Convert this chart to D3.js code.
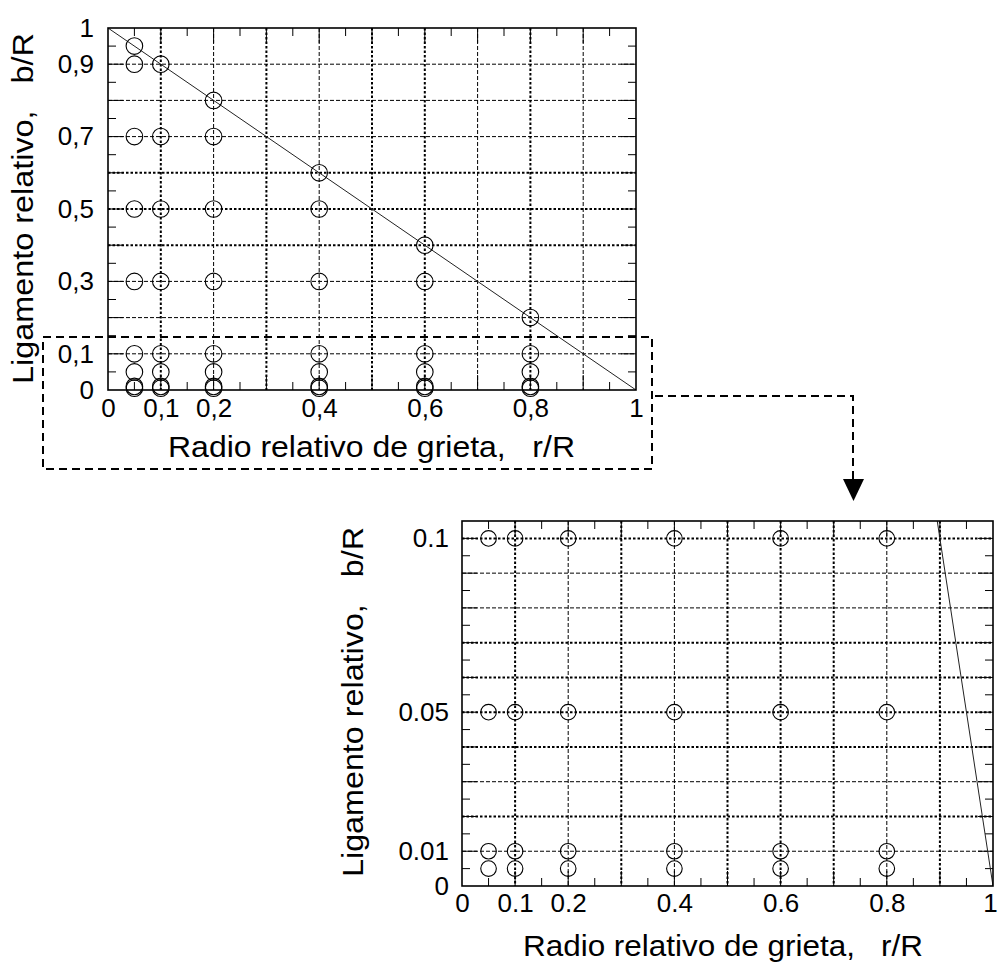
<!DOCTYPE html>
<html><head><meta charset="utf-8">
<script src="https://cdn.jsdelivr.net/npm/d3@7"></script>
<style>
html,body{margin:0;padding:0;background:#fff;}
svg{display:block;}
text{font-family:"Liberation Sans",Arial,sans-serif;fill:#000;}
</style></head>
<body>
<script>
// ---- data ----
const crackRadius = [0.05, 0.1, 0.2, 0.4, 0.6, 0.8];
const ligamentR005 = [0.95, 0.9, 0.7, 0.5, 0.3, 0.1, 0.05, 0.01, 0.005];
const ligamentR01  = [0.9, 0.7, 0.5, 0.3, 0.1, 0.05, 0.01, 0.005];
const ligamentR02  = [0.8, 0.7, 0.5, 0.3, 0.1, 0.05, 0.01, 0.005];
const ligamentR04  = [0.6, 0.5, 0.3, 0.1, 0.05, 0.01, 0.005];
const ligamentR06  = [0.4, 0.3, 0.1, 0.05, 0.01, 0.005];
const ligamentR08  = [0.2, 0.1, 0.05, 0.01, 0.005];
const ligamentSeries = [ligamentR005, ligamentR01, ligamentR02, ligamentR04, ligamentR06, ligamentR08];

const limitR = [0, 1];
const limitB = [1, 0];

const topXTicks = [0, 0.1, 0.2, 0.4, 0.6, 0.8, 1];
const topXLabels = ["0", "0,1", "0,2", "0,4", "0,6", "0,8", "1"];
const topYTicks = [0, 0.1, 0.3, 0.5, 0.7, 0.9, 1];
const topYLabels = ["0", "0,1", "0,3", "0,5", "0,7", "0,9", "1"];
const botXTicks = [0, 0.1, 0.2, 0.4, 0.6, 0.8, 1];
const botXLabels = ["0", "0.1", "0.2", "0.4", "0.6", "0.8", "1"];
const botYTicks = [0, 0.01, 0.05, 0.1];
const botYLabels = ["0", "0.01", "0.05", "0.1"];

const xTitle = "Radio relativo de grieta,   r/R";
const yTitle = "Ligamento relativo,   b/R";

// ---- style config ----
const topHeavyV = [0.1, 0.3, 0.5, 0.6, 0.8];
const topHeavyH = [0.4, 0.5, 0.6];
const botHeavyV = [0.1, 0.3, 0.5, 0.6, 0.7, 0.9];
const botHeavyH = [0.02, 0.04, 0.05, 0.06, 0.07, 0.1];
const TICK_FONT = 26, TITLE_FONT = 30;

const points = [];
crackRadius.forEach((r, i) => ligamentSeries[i].forEach(b => points.push({r, b})));

const svg = d3.select("body").append("svg").attr("width", 998).attr("height", 970);

function close(a, b) { return Math.abs(a - b) < 1e-9; }

function drawChart(cfg) {
  const x = d3.scaleLinear().domain(cfg.xDomain).range([cfg.left, cfg.right]);
  const y = d3.scaleLinear().domain(cfg.yDomain).range([cfg.bottom, cfg.top]);
  const g = svg.append("g");

  // grid
  const grid = g.append("g");
  cfg.gridX.forEach(v => {
    const heavy = cfg.heavyV.some(h => close(h, v));
    grid.append("line").attr("x1", x(v)).attr("x2", x(v)).attr("y1", cfg.top).attr("y2", cfg.bottom)
      .attr("stroke", "#000").attr("stroke-width", heavy ? 2 : 1)
      .attr("stroke-dasharray", heavy ? "2.5,2" : "4,2");
  });
  cfg.gridY.forEach(v => {
    const heavy = cfg.heavyH.some(h => close(h, v));
    grid.append("line").attr("y1", y(v)).attr("y2", y(v)).attr("x1", cfg.left).attr("x2", cfg.right)
      .attr("stroke", "#000").attr("stroke-width", heavy ? 2 : 1)
      .attr("stroke-dasharray", heavy ? "2.5,2" : "4,2");
  });

  // inner ticks
  const tk = g.append("g").attr("stroke", "#000").attr("stroke-width", 1);
  cfg.minorX.forEach(v => {
    const major = cfg.majorX.some(h => close(h, v));
    const L = major ? 15 : 8;
    tk.append("line").attr("x1", x(v)).attr("x2", x(v)).attr("y1", cfg.bottom).attr("y2", cfg.bottom - L);
    tk.append("line").attr("x1", x(v)).attr("x2", x(v)).attr("y1", cfg.top).attr("y2", cfg.top + L);
  });
  cfg.minorY.forEach(v => {
    const major = cfg.majorY.some(h => close(h, v));
    const L = major ? 15 : 8;
    tk.append("line").attr("y1", y(v)).attr("y2", y(v)).attr("x1", cfg.left).attr("x2", cfg.left + L);
    tk.append("line").attr("y1", y(v)).attr("y2", y(v)).attr("x1", cfg.right).attr("x2", cfg.right - L);
  });

  // limit line
  const clipId = "clip" + cfg.id;
  svg.append("clipPath").attr("id", clipId).append("rect")
    .attr("x", cfg.left).attr("y", cfg.top).attr("width", cfg.right - cfg.left).attr("height", cfg.bottom - cfg.top);
  const lineData = limitR.map((r, i) => ({r, b: limitB[i]}));
  g.append("path").datum(lineData).attr("clip-path", `url(#${clipId})`)
    .attr("d", d3.line().x(d => x(d.r)).y(d => y(d.b)))
    .attr("fill", "none").attr("stroke", "#222").attr("stroke-width", 1);

  // points
  g.append("g").selectAll("circle").data(points.filter(p => p.b <= cfg.yDomain[1] + 1e-9)).join("circle")
    .attr("cx", d => x(d.r)).attr("cy", d => y(d.b)).attr("r", cfg.radius)
    .attr("fill", "none").attr("stroke", "#000").attr("stroke-width", 1.1);

  // frame
  g.append("rect").attr("x", cfg.left).attr("y", cfg.top).attr("width", cfg.right - cfg.left)
    .attr("height", cfg.bottom - cfg.top).attr("fill", "none").attr("stroke", "#000").attr("stroke-width", 1.6);

  // axes labels
  const ax = g.append("g").attr("transform", `translate(0,${cfg.bottom})`)
    .call(d3.axisBottom(x).tickValues(cfg.xTicks).tickFormat((d, i) => cfg.xLabels[i]).tickSize(0).tickPadding(cfg.xPad));
  ax.select(".domain").remove();
  ax.selectAll("text").attr("font-size", TICK_FONT).attr("font-family", '"Liberation Sans",Arial,sans-serif').attr("fill", "#000");
  if (cfg.lastDx) ax.selectAll("text").filter(d => d === cfg.xTicks[cfg.xTicks.length - 1]).attr("dx", cfg.lastDx);

  const ay = g.append("g").attr("transform", `translate(${cfg.left},0)`)
    .call(d3.axisLeft(y).tickValues(cfg.yTicks).tickFormat((d, i) => cfg.yLabels[i]).tickSize(0).tickPadding(cfg.yPad));
  ay.select(".domain").remove();
  ay.selectAll("text").attr("font-size", TICK_FONT).attr("font-family", '"Liberation Sans",Arial,sans-serif').attr("fill", "#000");

  // titles
  g.append("text").attr("x", cfg.xtX).attr("y", cfg.xtY).attr("text-anchor", "middle")
    .attr("font-size", TITLE_FONT).style("white-space", "pre")
    .attr("textLength", cfg.xtLen).attr("lengthAdjust", "spacingAndGlyphs").text(xTitle);
  g.append("text").attr("transform", `translate(${cfg.ytX},${cfg.ytY}) rotate(-90)`).attr("text-anchor", "middle")
    .attr("font-size", TITLE_FONT).style("white-space", "pre")
    .attr("textLength", cfg.ytLen).attr("lengthAdjust", "spacingAndGlyphs").text(yTitle);
}

const tenths = d3.range(1, 10).map(i => i / 10);
const twentieths = d3.range(1, 20).map(i => i / 20);

drawChart({
  id: "top", xDomain: [0, 1], yDomain: [0, 1],
  left: 108, right: 636, top: 28, bottom: 390,
  gridX: tenths, gridY: tenths, heavyV: topHeavyV, heavyH: topHeavyH,
  minorX: twentieths, majorX: tenths, minorY: twentieths, majorY: tenths,
  radius: 8.3,
  xTicks: topXTicks, xLabels: topXLabels, yTicks: topYTicks, yLabels: topYLabels,
  xPad: 9, yPad: 14,
  xtX: 371.5, xtY: 457, xtLen: 407,
  ytX: 33, ytY: 208.5, ytLen: 351
});

drawChart({
  id: "bot", xDomain: [0, 1], yDomain: [0, 0.105],
  left: 462, right: 993, top: 521, bottom: 886,
  gridX: tenths, gridY: d3.range(1, 11).map(i => i / 100), heavyV: botHeavyV, heavyH: botHeavyH,
  minorX: twentieths, majorX: tenths, minorY: d3.range(1, 21).map(i => i / 200), majorY: d3.range(1, 11).map(i => i / 100),
  radius: 7.8,
  xTicks: botXTicks, xLabels: botXLabels, yTicks: botYTicks, yLabels: botYLabels,
  xPad: 8, yPad: 13, lastDx: -3,
  xtX: 723, xtY: 956, xtLen: 400,
  ytX: 363, ytY: 702, ytLen: 350
});

// zoom indicator: dashed box + connector + arrow
const ann = svg.append("g").attr("stroke", "#000").attr("stroke-width", 2).attr("fill", "none").attr("stroke-dasharray", "8,5");
ann.append("rect").attr("x", 43).attr("y", 337).attr("width", 652 - 43).attr("height", 469 - 337);
ann.append("path").attr("d", "M655,396 H853 V480");
svg.append("path").attr("d", "M843,479 L864,479 L853.5,501 Z").attr("fill", "#000");
</script>
</body></html>
